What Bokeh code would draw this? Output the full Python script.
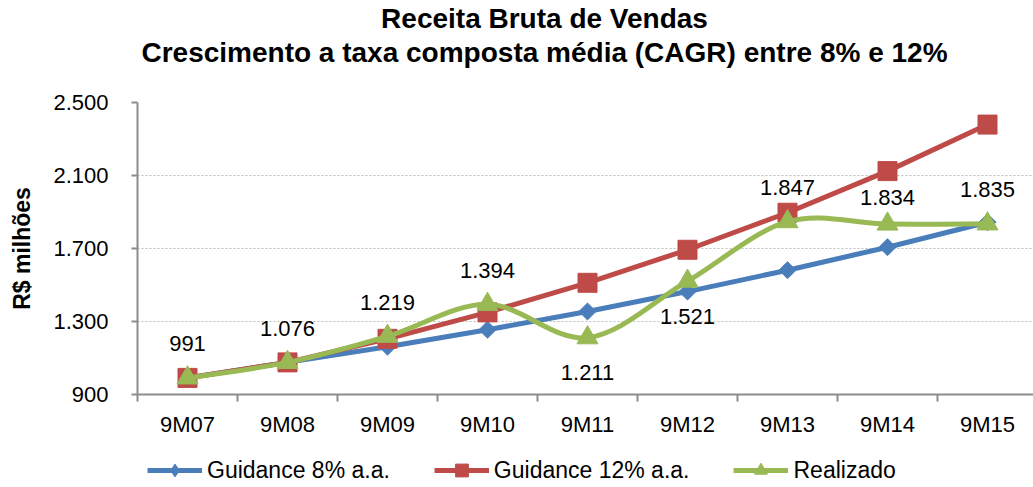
import numpy as np
from bokeh.plotting import figure
from bokeh.layouts import column
from bokeh.models import (FixedTicker, Legend, LegendItem, Label, ColumnDataSource)
from bokeh.core.properties import value
from bokeh.embed import file_html
from bokeh.resources import INLINE

# ---- data ----
categories = ["9M07", "9M08", "9M09", "9M10", "9M11", "9M12", "9M13", "9M14", "9M15"]
guidance_8 = [991, 1076, 1162, 1255, 1355, 1464, 1581, 1707, 1844]
guidance_12 = [991, 1076, 1205, 1350, 1512, 1693, 1896, 2124, 2379]
realizado = [991, 1076, 1219, 1394, 1211, 1521, 1847, 1834, 1835]
y_ticks = [900, 1300, 1700, 2100, 2500]
y_tick_labels = ["900", "1.300", "1.700", "2.100", "2.500"]
title_lines = ["Receita Bruta de Vendas",
               "Crescimento a taxa composta média (CAGR) entre 8% e 12%"]
series_names = ["Guidance 8% a.a.", "Guidance 12% a.a.", "Realizado"]

# label offsets (px, screen) for data labels of "Realizado"
label_offsets = [-34, -34, -34, -34, 35, 35, -34, -27, -34]

FONT = "Liberation Sans"
BLUE = "#4A7EBB"
RED = "#BE4B48"
GREEN = "#98B954"
AXIS = "#8C8C8C"
W = 1033

n = len(categories)
xs = np.arange(n)


def bare(fig):
    fig.outline_line_color = None
    fig.background_fill_color = "white"
    fig.border_fill_color = "white"
    fig.xgrid.grid_line_color = None
    fig.ygrid.grid_line_color = None


# ---------------- title strip ----------------
tf = figure(width=W, height=75, output_backend="svg", toolbar_location=None,
            x_range=(0, 1), y_range=(0, 1), x_axis_type=None, y_axis_type=None,
            min_border=0)
bare(tf)
for txt, yy in zip(title_lines, [57, 23]):
    tf.add_layout(Label(x=407, y=yy, x_units="screen", y_units="screen", text=txt,
                        text_font=FONT, text_font_size="28px", text_font_style="bold",
                        text_color="black", text_align="center", text_baseline="middle"))

# ---------------- main chart ----------------
p = figure(width=W, height=372, output_backend="svg", toolbar_location=None,
           x_range=(-0.5, 8.46), y_range=(900, 2500),
           min_border_left=137, min_border_right=0, min_border_top=27,
           min_border_bottom=53)
bare(p)

p.xaxis.ticker = FixedTicker(ticks=list(xs), minor_ticks=list(np.arange(n + 1) - 0.5))
p.xaxis.major_label_overrides = {int(i): c for i, c in zip(xs, categories)}
p.xaxis.major_tick_out = 0
p.xaxis.major_tick_in = 0
p.xaxis.minor_tick_out = 7
p.xaxis.minor_tick_in = 0
p.xaxis.minor_tick_line_color = AXIS
p.xaxis.minor_tick_line_width = 2
p.xaxis.major_label_standoff = 10
p.xaxis.major_label_text_font = FONT
p.xaxis.major_label_text_font_size = "22px"
p.xaxis.major_label_text_color = "black"
p.xaxis.axis_line_color = AXIS
p.xaxis.axis_line_width = 2

p.yaxis.ticker = FixedTicker(ticks=y_ticks, minor_ticks=[])
p.yaxis.major_label_overrides = {t: l for t, l in zip(y_ticks, y_tick_labels)}
p.yaxis.major_tick_out = 6
p.yaxis.major_tick_in = 0
p.yaxis.major_tick_line_color = AXIS
p.yaxis.major_tick_line_width = 2
p.yaxis.minor_tick_line_color = None
p.yaxis.major_label_standoff = 23
p.yaxis.major_label_text_font = FONT
p.yaxis.major_label_text_font_size = "22px"
p.yaxis.major_label_text_color = "black"
p.yaxis.axis_line_color = AXIS
p.yaxis.axis_line_width = 2
p.yaxis.axis_label = "R$ milhões"
p.yaxis.axis_label_text_font = FONT
p.yaxis.axis_label_text_font_size = "23px"
p.yaxis.axis_label_text_font_style = "bold"
p.yaxis.axis_label_text_color = "black"
p.yaxis.axis_label_standoff = 15

p.ygrid.grid_line_color = "#BFBFBF"
p.ygrid.grid_line_dash = "2 2"
p.ygrid.grid_line_width = 1

# Guidance 8%
p.line(xs, guidance_8, line_color=BLUE, line_width=5)
p.scatter(xs, guidance_8, marker="square", size=12, angle=np.pi / 4,
          fill_color=BLUE, line_color=BLUE)
# Guidance 12%
p.line(xs, guidance_12, line_color=RED, line_width=5)
p.scatter(xs, guidance_12, marker="square", size=19, fill_color=RED, line_color=RED)

# Realizado: smoothed line through the points (cubic Bezier, Catmull-Rom style)
ry = np.array(realizado, dtype=float)
xp = np.concatenate([[xs[0]], xs, [xs[-1]]]).astype(float)
yp = np.concatenate([[ry[0]], ry, [ry[-1]]])
seg = np.arange(n - 1)
src = ColumnDataSource(dict(
    x0=xp[seg + 1], y0=yp[seg + 1], x1=xp[seg + 2], y1=yp[seg + 2],
    cx0=xp[seg + 1] + (xp[seg + 2] - xp[seg]) / 6,
    cy0=yp[seg + 1] + (yp[seg + 2] - yp[seg]) / 6,
    cx1=xp[seg + 2] - (xp[seg + 3] - xp[seg + 1]) / 6,
    cy1=yp[seg + 2] - (yp[seg + 3] - yp[seg + 1]) / 6,
))
p.bezier(x0="x0", y0="y0", x1="x1", y1="y1", cx0="cx0", cy0="cy0", cx1="cx1", cy1="cy1",
         source=src, line_color=GREEN, line_width=5)
p.scatter(xs, realizado, marker="triangle", size=21, fill_color=GREEN, line_color=GREEN)

# data labels
lab_src = ColumnDataSource(dict(
    x=xs, y=realizado,
    text=[f"{v:,}".replace(",", ".") for v in realizado],
    dy=label_offsets,
))
p.text(x="x", y="y", text="text", y_offset="dy", source=lab_src,
       text_font=value(FONT), text_font_size="22px", text_color="black",
       text_align="center", text_baseline="middle")

# ---------------- legend strip ----------------
# the series are drawn here again (outside this strip's visible range) only to
# serve as legend entries
lf = figure(width=W, height=40, output_backend="svg", toolbar_location=None,
            x_range=(0, 1), y_range=(0, 1), x_axis_type=None, y_axis_type=None,
            min_border=0)
bare(lf)
l1 = lf.line(xs, guidance_8, line_color=BLUE, line_width=5)
m1 = lf.scatter(xs, guidance_8, marker="diamond", size=16, fill_color=BLUE, line_color=BLUE)
l2 = lf.line(xs, guidance_12, line_color=RED, line_width=5)
m2 = lf.scatter(xs, guidance_12, marker="square", size=16, fill_color=RED, line_color=RED)
l3 = lf.line(xs, realizado, line_color=GREEN, line_width=5)
m3 = lf.scatter(xs, realizado, marker="triangle", size=16, fill_color=GREEN, line_color=GREEN)

legend = Legend(items=[
    LegendItem(label=series_names[0], renderers=[l1, m1]),
    LegendItem(label=series_names[1], renderers=[l2, m2]),
    LegendItem(label=series_names[2], renderers=[l3, m3]),
], orientation="horizontal", location=(10, 1))
legend.glyph_width = 55
legend.glyph_height = 32
legend.label_height = 20
legend.label_standoff = 5
legend.spacing = 44
legend.padding = 0
legend.margin = 0
legend.border_line_color = None
legend.background_fill_alpha = 0
legend.label_text_font = FONT
legend.label_text_font_size = "23px"
legend.label_text_color = "black"
lf.add_layout(legend, "center")

layout = column(tf, p, lf, spacing=0)
open("out.html", "w").write(file_html(layout, INLINE))
